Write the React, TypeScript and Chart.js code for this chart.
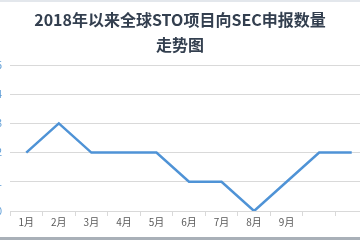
import React, { useEffect, useRef } from "react";
import { Chart, registerables } from "chart.js";

Chart.register(...registerables);

const titleLines = ["2018年以来全球STO项目向SEC申报数量", "走势图"];
const months = ["1月", "2月", "3月", "4月", "5月", "6月", "7月", "8月", "9月", "", ""];
const filings = [2, 3, 2, 2, 2, 1, 1, 0, 1, 2, 2];
const yTicks = [0, 1, 2, 3, 4, 5];

const SHIFT = 30;
const CANVAS_W = 398;

export default function App() {
  const ref = useRef<HTMLCanvasElement | null>(null);
  useEffect(() => {
    if (!ref.current) return;
    const chart = new Chart(ref.current, {
      type: "line",
      data: {
        labels: months,
        datasets: [
          {
            data: filings,
            borderColor: "#4F93D6",
            borderWidth: 2.5,
            pointRadius: 0,
            tension: 0,
            fill: false,
          },
        ],
      },
      options: {
        animation: false,
        responsive: false,
        maintainAspectRatio: false,
        layout: { padding: { left: SHIFT - 8, right: 0, top: 0, bottom: 12 } },
        plugins: {
          legend: { display: false },
          tooltip: { enabled: false },
          title: {
            display: true,
            text: titleLines,
            color: "#333F4F",
            font: { family: "'Noto Sans CJK SC', sans-serif", size: 16, weight: "bold", lineHeight: 1.5625 },
            padding: { top: 7, bottom: 8 },
          },
        },
        scales: {
          x: {
            type: "category",
            offset: true,
            grid: {
              offset: true,
              drawOnChartArea: false,
              drawTicks: true,
              tickLength: 5,
              color: "#D9D9D9",
            },
            border: { display: true, color: "#D9D9D9" },
            ticks: {
              color: "#595959",
              padding: 0,
              maxRotation: 0,
              autoSkip: false,
              font: { family: "'Noto Sans CJK SC', sans-serif", size: 10 },
            },
          },
          y: {
            min: yTicks[0],
            max: yTicks[yTicks.length - 1],
            afterBuildTicks: (axis: any) => {
              axis.ticks = yTicks.map((v) => ({ value: v }));
            },
            afterFit: (axis: any) => {
              axis.width = 18;
            },
            grid: { color: "#D9D9D9", drawTicks: false },
            border: { display: false },
            ticks: {
              color: "#5B9BD5",
              padding: 8,
              font: { family: "'Noto Sans CJK SC', sans-serif", size: 10 },
            },
          },
        },
      },
    });
    return () => chart.destroy();
  }, []);

  return (
    <div
      style={{
        position: "fixed",
        left: 0,
        top: 0,
        width: 360,
        height: 240,
        overflow: "hidden",
        background: "#fff",
      }}
    >
      <div style={{ position: "absolute", left: 0, top: 0, width: 360, height: 2, background: "#E3E7EC" }} />
      <canvas
        ref={ref}
        width={CANVAS_W}
        height={240}
        style={{ position: "absolute", left: -SHIFT, top: 0, width: CANVAS_W, height: 240 }}
      />
      <div style={{ position: "absolute", left: 0, top: 237, width: 360, height: 3, background: "#A9B0B8" }} />
    </div>
  );
}
